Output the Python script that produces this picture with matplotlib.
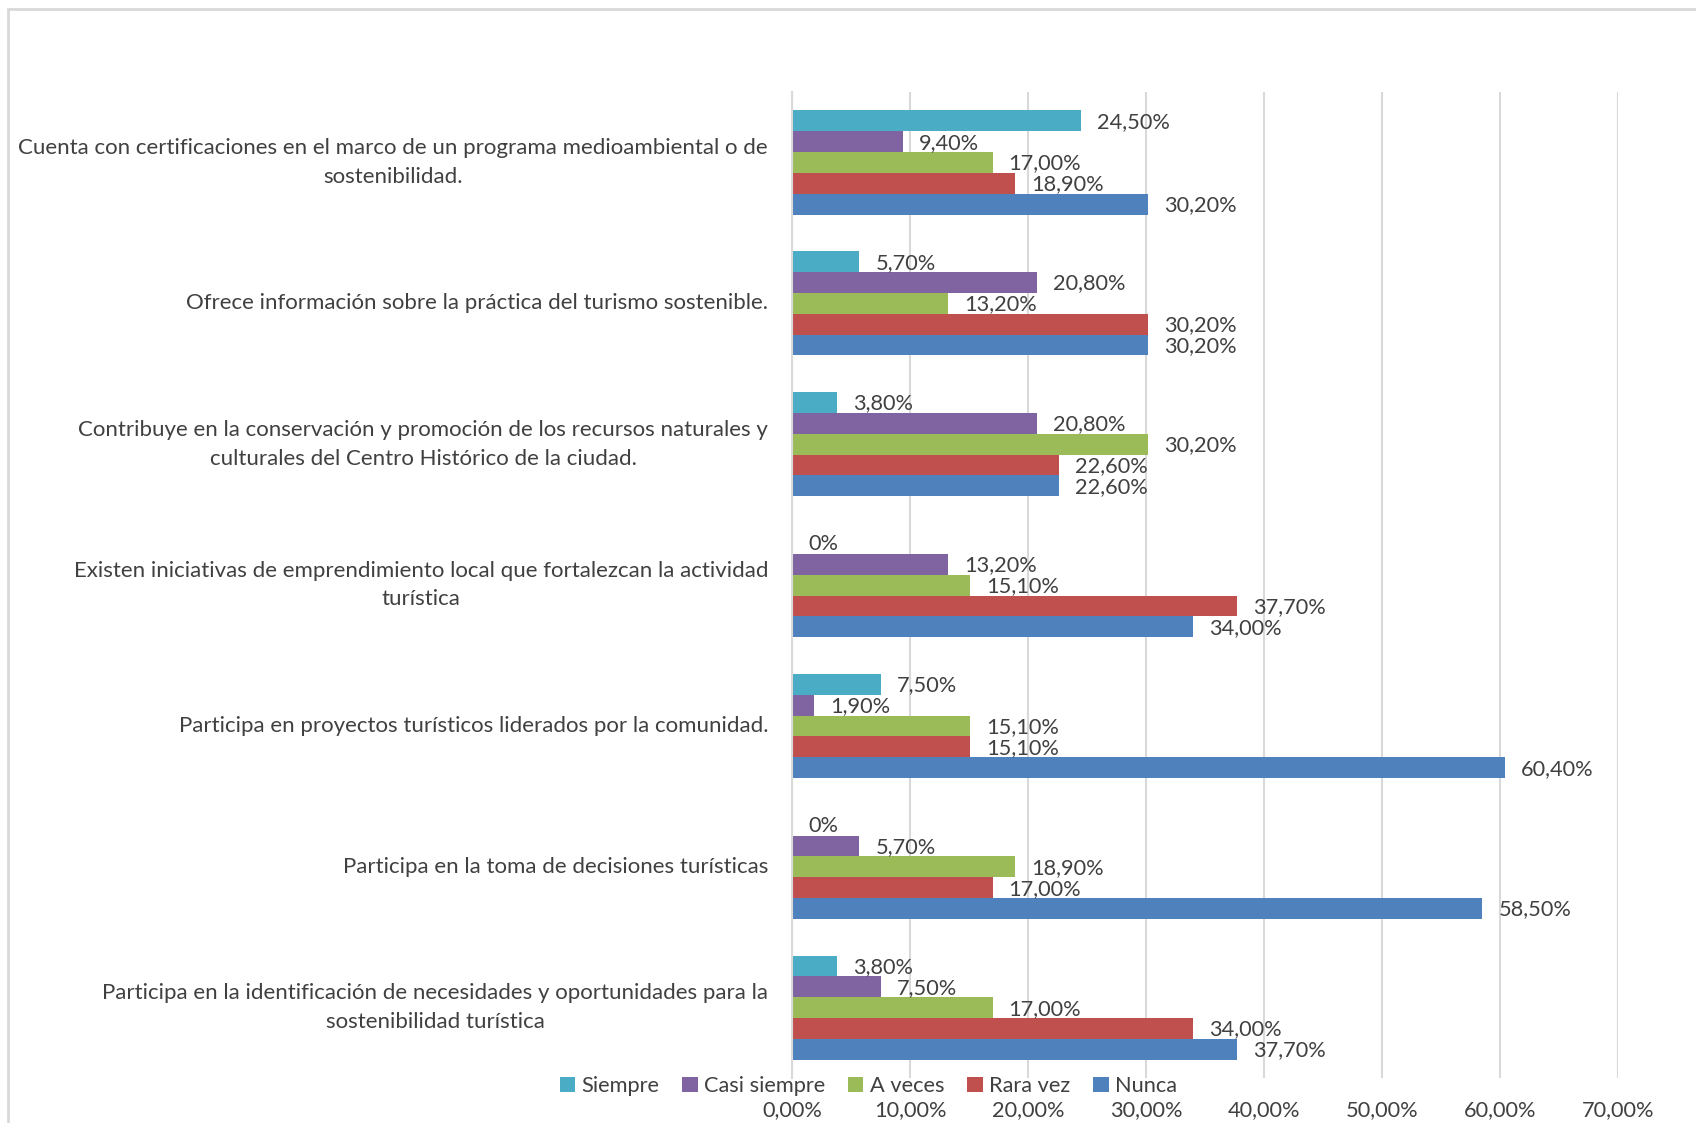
import numpy as np
import matplotlib

matplotlib.use("Agg")
import matplotlib.pyplot as plt
from matplotlib.patches import Rectangle
from matplotlib.ticker import FuncFormatter

plt.rcParams["font.family"] = ["Lato", "DejaVu Sans"]

CATEGORIES = [
    "Cuenta con certificaciones en el marco de un programa medioambiental o de\nsostenibilidad.",
    "Ofrece información sobre la práctica del turismo sostenible.",
    "Contribuye en la conservación y promoción de los recursos naturales y\nculturales del Centro Histórico de la ciudad.",
    "Existen iniciativas de emprendimiento local que fortalezcan la actividad\nturística",
    "Participa en proyectos turísticos liderados por la comunidad.",
    "Participa en la toma de decisiones turísticas",
    "Participa en la identificación de necesidades y oportunidades para la\nsostenibilidad turística",
]

SERIES = ["Siempre", "Casi siempre", "A veces", "Rara vez", "Nunca"]
SIEMPRE = [24.5, 5.7, 3.8, 0.0, 7.5, 0.0, 3.8]
CASI_SIEMPRE = [9.4, 20.8, 20.8, 13.2, 1.9, 5.7, 7.5]
A_VECES = [17.0, 13.2, 30.2, 15.1, 15.1, 18.9, 17.0]
RARA_VEZ = [18.9, 30.2, 22.6, 37.7, 15.1, 17.0, 34.0]
NUNCA = [30.2, 30.2, 22.6, 34.0, 60.4, 58.5, 37.7]

COLORS = ["#4BACC6", "#8064A2", "#9BBB59", "#C0504D", "#4F81BD"]
TEXT = "#404040"
GRID = "#D9D9D9"


def fmt_pct(v):
    if v == 0:
        return "0%"
    return f"{v:.2f}".replace(".", ",") + "%"


def main():
    fig = plt.figure(figsize=(16.96, 11.23), dpi=100)
    ax = fig.add_axes([0.467, 0.040, 0.487, 0.878])

    values = [SIEMPRE, CASI_SIEMPRE, A_VECES, RARA_VEZ, NUNCA]
    n = len(CATEGORIES)
    y = np.arange(n)[::-1].astype(float)
    h = 0.148

    for j, (name, vals, color) in enumerate(zip(SERIES, values, COLORS)):
        pos = y + (2 - j) * h
        vals = np.array(vals) / 100.0
        ax.barh(pos, vals, height=h, color=color, label=name, zorder=2)
        for p, v in zip(pos, vals):
            ax.annotate(fmt_pct(v * 100), (v, p), xytext=(16, -1),
                        textcoords="offset pixels",
                        ha="left", va="center", fontsize=15.7, color=TEXT)

    # category labels drawn by hand so two-line ones sit centred on the group
    for yc, cat in zip(y, CATEGORIES):
        ax.annotate(cat, (0, yc), xycoords=("axes fraction", "data"),
                    xytext=(-24, 0), textcoords="offset pixels",
                    ha="right", va="center", multialignment="center",
                    linespacing=1.55, fontsize=16, color=TEXT)

    ax.set_xlim(0, 0.70)
    ax.set_ylim(-0.5, n - 0.5)
    ax.set_xticks(np.arange(0, 0.71, 0.10))
    ax.xaxis.set_major_formatter(FuncFormatter(lambda v, _: f"{v * 100:.2f}".replace(".", ",") + "%"))
    ax.set_yticks([])
    ax.tick_params(axis="x", length=0, pad=16, labelsize=15.7, labelcolor=TEXT)
    ax.grid(axis="x", color=GRID, linewidth=1.5, zorder=0)
    for side in ["top", "right", "bottom"]:
        ax.spines[side].set_visible(False)
    ax.spines["left"].set_color(GRID)
    ax.spines["left"].set_linewidth(1.5)

    handles, labels = ax.get_legend_handles_labels()
    fig.legend(handles, labels, loc="center", bbox_to_anchor=(0.512, 0.033),
               ncol=5, frameon=False, fontsize=15.7, labelcolor=TEXT,
               handlelength=0.7, handleheight=0.7, handletextpad=0.3,
               columnspacing=1.05, borderaxespad=0)

    fig.patches.append(Rectangle((8 / 1696, -0.05), 1.1, 1 - 9 / 1123 + 0.05,
                                 transform=fig.transFigure, fill=False,
                                 edgecolor=GRID, linewidth=2))

    fig.savefig("out.png", dpi=100, facecolor="white")


if __name__ == "__main__":
    main()
